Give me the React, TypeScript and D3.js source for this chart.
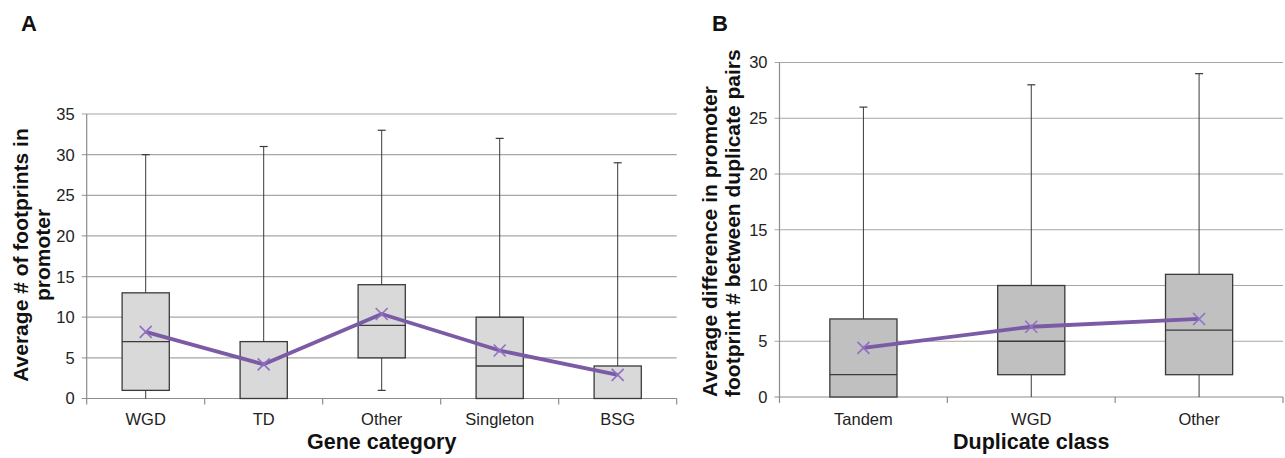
import React from "react";
import * as d3 from "d3";

// Panel A data
const catsA = ["WGD", "TD", "Other", "Singleton", "BSG"];
const minA = [0, 0, 1, 0, 0];
const q1A = [1, 0, 5, 0, 0];
const medA = [7, 0, 9, 4, 0];
const q3A = [13, 7, 14, 10, 4];
const maxA = [30, 31, 33, 32, 29];
const meanA = [8.2, 4.2, 10.4, 5.9, 2.9];
const ticksA = [0, 5, 10, 15, 20, 25, 30, 35];

// Panel B data
const catsB = ["Tandem", "WGD", "Other"];
const minB = [0, 0, 0];
const q1B = [0, 2, 2];
const medB = [2, 5, 6];
const q3B = [7, 10, 11];
const maxB = [26, 28, 29];
const meanB = [4.4, 6.3, 7.0];
const ticksB = [0, 5, 10, 15, 20, 25, 30];

const FONT = "'Liberation Sans', Arial, Helvetica, sans-serif";
const GRID = "#a6a6a6";
const AXIS = "#8c8c8c";
const BOXSTROKE = "#3a3a3a";
const PURPLE = "#7b5aa6";
const MARK = "#8f6fc4";

type PanelProps = {
  cats: string[];
  mins: number[];
  q1: number[];
  med: number[];
  q3: number[];
  maxs: number[];
  means: number[];
  ticks: number[];
  yMax: number;
  x0: number;
  x1: number;
  y0: number;
  y1: number;
  fill: string;
  xTitle: string;
  yTitle: string[];
  yTitleX: number[];
  yTitleAnchor: "middle" | "start";
  yTitleY: number;
  letter: string;
  letterX: number;
  lowCapMin: boolean[];
};

function Panel(p: PanelProps) {
  const x = d3.scaleBand<string>().domain(p.cats).range([p.x0, p.x1]).paddingInner(0).paddingOuter(0);
  const y = d3.scaleLinear().domain([0, p.yMax]).range([p.y0, p.y1]);
  const bw = x.bandwidth();
  const boxW = bw * 0.4;
  const cx = (c: string) => (x(c) as number) + bw / 2;
  const line = d3
    .line<number>()
    .x((_, i) => cx(p.cats[i]))
    .y((d) => y(d));
  const boundaries = p.cats.map((c) => x(c) as number).concat([p.x1]);
  const capW = 8;
  const mk = 6;
  return (
    <g>
      <text x={p.letterX} y={31} fontFamily={FONT} fontWeight="bold" fontSize={22} fill="#111">
        {p.letter}
      </text>
      {/* gridlines and y ticks */}
      {p.ticks.map((t) => (
        <g key={t}>
          <line x1={p.x0 - 5} x2={p.x1} y1={y(t)} y2={y(t)} stroke={t === 0 ? AXIS : GRID} strokeWidth={1.2} />
          <text x={p.x0 - 12} y={y(t)} dy="0.36em" textAnchor="end" fontFamily={FONT} fontSize={16.5} fill="#222">
            {t}
          </text>
        </g>
      ))}
      <line x1={p.x0} x2={p.x0} y1={p.y1} y2={p.y0} stroke={AXIS} strokeWidth={1.2} />
      {boundaries.map((b, i) => (
        <line key={i} x1={b} x2={b} y1={p.y0} y2={p.y0 + 6} stroke={AXIS} strokeWidth={1.2} />
      ))}
      {/* boxes */}
      {p.cats.map((c, i) => {
        const xc = cx(c);
        return (
          <g key={c}>
            <line x1={xc} x2={xc} y1={y(p.maxs[i])} y2={y(p.q3[i])} stroke={BOXSTROKE} strokeWidth={1} />
            <line x1={xc - capW / 2} x2={xc + capW / 2} y1={y(p.maxs[i])} y2={y(p.maxs[i])} stroke={BOXSTROKE} strokeWidth={1.2} />
            {p.q1[i] > p.mins[i] && (
              <line x1={xc} x2={xc} y1={y(p.q1[i])} y2={y(p.mins[i])} stroke={BOXSTROKE} strokeWidth={1} />
            )}
            {p.lowCapMin[i] && (
              <line x1={xc - capW / 2} x2={xc + capW / 2} y1={y(p.mins[i])} y2={y(p.mins[i])} stroke={BOXSTROKE} strokeWidth={1.2} />
            )}
            <rect
              x={xc - boxW / 2}
              y={y(p.q3[i])}
              width={boxW}
              height={y(p.q1[i]) - y(p.q3[i])}
              fill={p.fill}
              stroke={BOXSTROKE}
              strokeWidth={1.3}
            />
            {p.med[i] > p.q1[i] && (
              <line x1={xc - boxW / 2} x2={xc + boxW / 2} y1={y(p.med[i])} y2={y(p.med[i])} stroke={BOXSTROKE} strokeWidth={1.3} />
            )}
            <text x={xc} y={425} textAnchor="middle" fontFamily={FONT} fontSize={16.5} fill="#222">
              {c}
            </text>
          </g>
        );
      })}
      {/* mean line */}
      <path d={line(p.means) || ""} fill="none" stroke={PURPLE} strokeWidth={3.8} strokeLinejoin="round" />
      {p.cats.map((c, i) => {
        const xc = cx(c);
        const yc = y(p.means[i]);
        return (
          <g key={"m" + c} stroke={MARK} strokeWidth={1.6}>
            <line x1={xc - mk} x2={xc + mk} y1={yc - mk} y2={yc + mk} />
            <line x1={xc - mk} x2={xc + mk} y1={yc + mk} y2={yc - mk} />
          </g>
        );
      })}
      {/* titles */}
      <text
        x={(p.x0 + p.x1) / 2}
        y={449}
        textAnchor="middle"
        fontFamily={FONT}
        fontWeight="bold"
        fontSize={21.5}
        fill="#111"
      >
        {p.xTitle}
      </text>
      {p.yTitle.map((t, i) => (
        <text
          key={i}
          transform={`translate(${p.yTitleX[i]},${p.yTitleY}) rotate(-90)`}
          textAnchor={p.yTitleAnchor}
          fontFamily={FONT}
          fontWeight="bold"
          fontSize={21}
          fill="#111"
        >
          {t}
        </text>
      ))}
    </g>
  );
}

export default function App() {
  return (
    <svg
      width={1285}
      height={458}
      viewBox="0 0 1285 458"
      style={{ position: "absolute", left: 0, top: 0, background: "#fff" }}
    >
      <rect x={0} y={0} width={1285} height={458} fill="#fff" />
      <Panel
        cats={catsA}
        mins={minA}
        q1={q1A}
        med={medA}
        q3={q3A}
        maxs={maxA}
        means={meanA}
        ticks={ticksA}
        yMax={35}
        x0={86.7}
        x1={676.7}
        y0={398.5}
        y1={114}
        fill="#d9d9d9"
        xTitle="Gene category"
        yTitle={["Average # of footprints in", "promoter"]}
        yTitleX={[28, 50]}
        yTitleAnchor="middle"
        yTitleY={255}
        letter="A"
        letterX={21}
        lowCapMin={[false, false, true, false, false]}
      />
      <Panel
        cats={catsB}
        mins={minB}
        q1={q1B}
        med={medB}
        q3={q3B}
        maxs={maxB}
        means={meanB}
        ticks={ticksB}
        yMax={30}
        x0={779.5}
        x1={1283}
        y0={397}
        y1={62.5}
        fill="#c0c0c0"
        xTitle="Duplicate class"
        yTitle={["Average difference in promoter", "footprint # between duplicate pairs"]}
        yTitleX={[717, 740]}
        yTitleAnchor="start"
        yTitleY={397}
        letter="B"
        letterX={712}
        lowCapMin={[false, false, false]}
      />
    </svg>
  );
}
